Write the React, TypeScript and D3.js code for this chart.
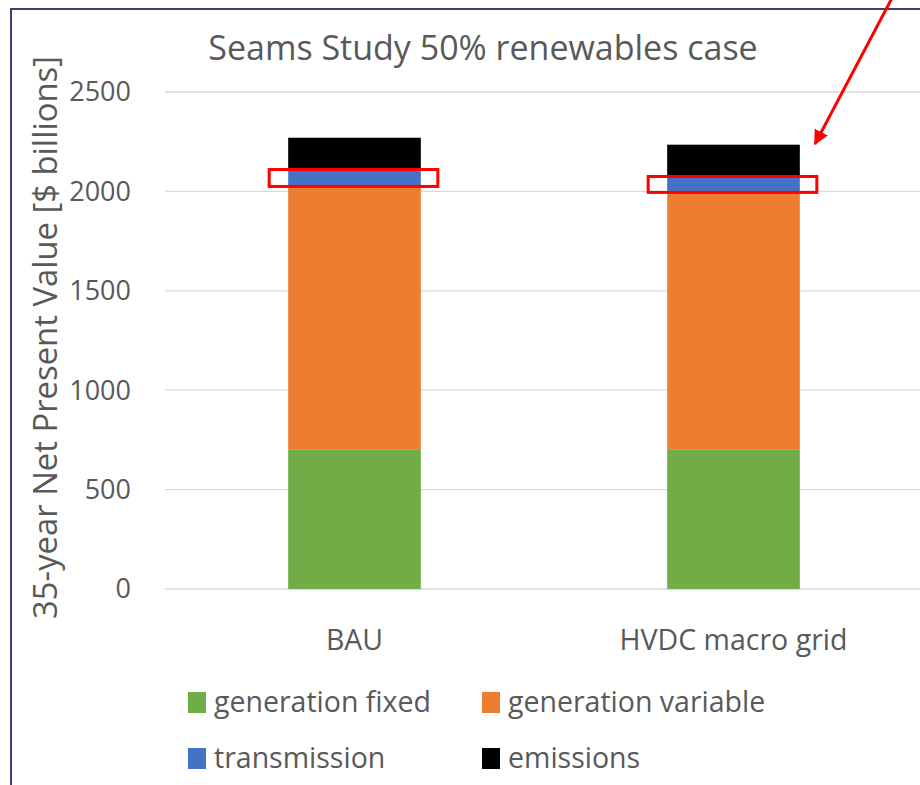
import React from "react";
import * as d3 from "d3";

const categories = ["BAU", "HVDC macro grid"];
const seriesNames = ["generation fixed", "generation variable", "transmission", "emissions"];
const genFixed = [700, 700];
const genVariable = [1330, 1300];
const transmission = [75, 70];
const emissions = [165, 165];
const yTicks = [0, 500, 1000, 1500, 2000, 2500];
const colors = ["#70AD47", "#ED7D31", "#4472C4", "#000000"];

const W = 920, H = 785;
const FONT = "'Open Sans', sans-serif";

export default function App() {
  const x = d3.scaleBand<string>().domain(categories).range([165, 923]).paddingInner(0.65).paddingOuter(0.325);
  const y = d3.scaleLinear().domain([0, 2500]).range([589, 92]);
  const rows = categories.map((c, i) => ({ cat: c, gf: genFixed[i], gv: genVariable[i], tr: transmission[i], em: emissions[i] }));
  const stack = d3.stack<any>().keys(["gf", "gv", "tr", "em"])(rows);
  const bw = x.bandwidth();
  const trLayer = stack[2];

  return (
    <svg width={W} height={H} style={{ position: "absolute", left: 0, top: 0, background: "#fff" }} fontFamily={FONT}>
      <rect x={11} y={9} width={W} height={H} fill="#fff" stroke="#27315F" strokeWidth={1.8} />
      <text x={483} y={60} textAnchor="middle" fontSize={34} fill="#595959">Seams Study 50% renewables case</text>
      {yTicks.map(t => (
        <g key={t}>
          <line x1={165} x2={W} y1={y(t)} y2={y(t)} stroke="#D9D9D9" strokeWidth={1.3} />
          <text x={131} y={y(t)} dy="0.35em" textAnchor="end" fontSize={27} fill="#595959">{t}</text>
        </g>
      ))}
      <text transform={`translate(46,${y(1250) - 3}) rotate(-90)`} textAnchor="middle" dy="0.35em" fontSize={32.8} fill="#595959">35-year Net Present Value [$ billions]</text>
      {stack.map((layer, li) => (
        <g key={li} fill={colors[li]}>
          {layer.map((d, i) => (
            <rect key={i} x={x(categories[i])!} width={bw} y={y(d[1])} height={y(d[0]) - y(d[1])} />
          ))}
        </g>
      ))}
      {trLayer.map((d, i) => (
        <rect key={"hl" + i} x={x(categories[i])! - 19} width={bw + 36} y={y(d[1]) - 1} height={y(d[0]) - y(d[1]) + 2}
          fill="none" stroke="#FF0000" strokeWidth={3} />
      ))}
      {categories.map(c => (
        <text key={c} x={x(c)! + bw / 2} y={640} dy="0.35em" textAnchor="middle" fontSize={28.5} fill="#595959">{c}</text>
      ))}
      {seriesNames.map((s, i) => {
        const lx = i % 2 === 0 ? 188 : 482;
        const ly = i < 2 ? 702 : 758;
        return (
          <g key={s}>
            <rect x={lx} y={ly - 10} width={18} height={21} fill={colors[i]} />
            <text x={lx + 26} y={ly} dy="0.35em" fontSize={28.5} fill="#595959">{s}</text>
          </g>
        );
      })}
      <defs>
        <marker id="ah" viewBox="0 0 10 10" refX={9} refY={5} markerWidth={5} markerHeight={5} orient="auto">
          <path d="M0,0 L10,5 L0,10 z" fill="#FF0000" />
        </marker>
      </defs>
      <line x1={892} y1={-2} x2={815} y2={144} stroke="#FF0000" strokeWidth={3} markerEnd="url(#ah)" />
    </svg>
  );
}
